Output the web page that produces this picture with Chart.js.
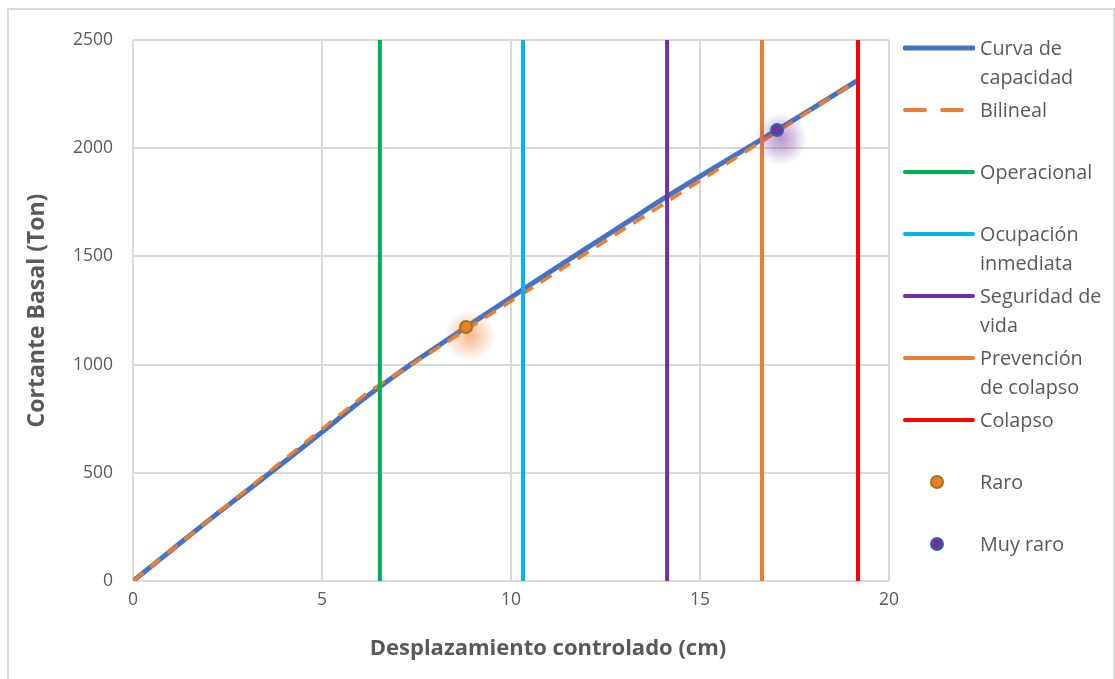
<!DOCTYPE html>
<html lang="es">
<head>
<meta charset="utf-8">
<title>Curva de capacidad</title>
<script src="https://cdn.jsdelivr.net/npm/chart.js@4.4.1/dist/chart.umd.min.js"></script>
<style>
    html, body { margin: 0; padding: 0; background: #fff; }
    body { width: 1115px; height: 679px; overflow: hidden; position: relative; font-family: 'Open Sans', sans-serif; }
    #frame { position: absolute; left: 7px; top: 8px; width: 1104px; height: 700px; border: 2px solid #d9d9d9; border-bottom: none; }
    #wrap { position: absolute; left: 0; top: 0; width: 1115px; height: 679px; }
    #xtitle { position: absolute; left: 348px; width: 400px; top: 630px; text-align: center; font-size: 22px; line-height: 32px; font-weight: bold; color: #595959; }
    #legend { position: absolute; left: 903px; top: 33px; width: 205px; }
    .item { position: relative; height: 62px; }
    .item svg { position: absolute; left: 0; top: 4px; }
    .item span { position: absolute; left: 77px; top: 0; font-size: 19.8px; line-height: 29px; color: #595959; white-space: pre-line; }
</style>
</head>
<body>
<div id="frame"></div>
<div id="wrap"><canvas id="chart" width="1115" height="679"></canvas></div>
<div id="xtitle">Desplazamiento controlado (cm)</div>
<div id="legend"></div>
<script>
// Capacity curve (displacement cm, base shear Ton)
const capX = [0, 1, 2, 3, 4, 5, 6, 7, 8, 9, 10, 11, 12, 13, 14, 15, 16, 17, 18, 19.18];
const capY = [0, 140, 280, 415, 550, 688, 828, 958, 1078, 1195, 1310, 1425, 1538, 1650, 1763, 1870, 1975, 2080, 2186, 2315];

// Bilinear idealization
const biX = [0, 6.2, 19.18];
const biY = [0, 870, 2315];

// Performance level limits (cm)
const levelNames = ['Operacional', 'Ocupación\ninmediata', 'Seguridad de\nvida', 'Prevención\nde colapso', 'Colapso'];
const levelX = [6.53, 10.32, 14.13, 16.64, 19.18];

// Performance points
const raroX = [8.81];
const raroY = [1174];
const muyRaroX = [17.04];
const muyRaroY = [2084];

const xTicks = [0, 5, 10, 15, 20];
const yTicks = [0, 500, 1000, 1500, 2000, 2500];

const GRAY = '#595959';
const FONT = "'Open Sans', sans-serif";

function toPoints(xs, ys) {
    return xs.map((x, i) => ({ x: x, y: ys[i] }));
}

const levelColors = ['#00b050', '#00b0f0', '#7030a0', '#ed7d31', '#ff0000'];

const datasets = [
    {
        label: 'Curva de\ncapacidad',
        data: toPoints(capX, capY),
        borderColor: '#4472c4',
        borderWidth: 5,
        pointRadius: 0,
        cubicInterpolationMode: 'monotone',
        order: 4
    },
    {
        label: 'Bilineal',
        data: toPoints(biX, biY),
        borderColor: '#ed7d31',
        borderWidth: 3.5,
        borderDash: [13, 9],
        pointRadius: 0,
        order: 3
    }
];

levelX.forEach((x, i) => {
    datasets.push({
        label: levelNames[i],
        data: [{ x: x, y: yTicks[0] }, { x: x, y: yTicks[yTicks.length - 1] }],
        borderColor: levelColors[i],
        borderWidth: 4,
        pointRadius: 0,
        order: 2
    });
});

datasets.push({
    label: 'Raro',
    data: toPoints(raroX, raroY),
    showLine: false,
    pointRadius: 6,
    pointBackgroundColor: '#ed7d31',
    pointBorderColor: '#a07a10',
    pointBorderWidth: 2,
    glow: 'rgba(237, 125, 49, 0.55)',
    order: 1
});
datasets.push({
    label: 'Muy raro',
    data: toPoints(muyRaroX, muyRaroY),
    showLine: false,
    pointRadius: 6,
    pointBackgroundColor: '#7030a0',
    pointBorderColor: '#2e6a9e',
    pointBorderWidth: 2,
    glow: 'rgba(112, 48, 160, 0.5)',
    order: 0
});

// soft halo behind the performance points
const markerGlow = {
    id: 'markerGlow',
    beforeDatasetDraw(chart, args) {
        const ds = chart.data.datasets[args.index];
        if (!ds.glow) return;
        const ctx = chart.ctx;
        args.meta.data.forEach(pt => {
            const cx = pt.x + 4, cy = pt.y + 9;
            const g = ctx.createRadialGradient(cx, cy, 0, cx, cy, 26);
            g.addColorStop(0, ds.glow);
            g.addColorStop(0.45, ds.glow.replace(/[\d.]+\)$/, '0.3)'));
            g.addColorStop(1, ds.glow.replace(/[\d.]+\)$/, '0)'));
            ctx.save();
            ctx.fillStyle = g;
            ctx.beginPath();
            ctx.arc(cx, cy, 26, 0, Math.PI * 2);
            ctx.fill();
            ctx.restore();
        });
    }
};

const chart = new Chart(document.getElementById('chart'), {
    type: 'scatter',
    data: { datasets: datasets },
    options: {
        responsive: false,
        animation: false,
        showLine: true,
        layout: { padding: { top: 40, right: 226, left: 0, bottom: 0 } },
        plugins: {
            legend: { display: false },
            tooltip: { enabled: false }
        },
        scales: {
            x: {
                type: 'linear',
                min: xTicks[0],
                max: xTicks[xTicks.length - 1],
                afterBuildTicks: scale => { scale.ticks = xTicks.map(v => ({ value: v })); },
                afterFit: scale => { scale.height = 98; },
                ticks: { color: GRAY, font: { family: FONT, size: 17.5 }, padding: 9, callback: v => String(v) },
                grid: { color: '#d9d9d9', lineWidth: 2, drawTicks: false },
                border: { display: false }
            },
            y: {
                type: 'linear',
                min: yTicks[0],
                max: yTicks[yTicks.length - 1],
                afterBuildTicks: scale => { scale.ticks = yTicks.map(v => ({ value: v })); },
                afterFit: scale => { scale.width = 133; },
                ticks: { color: GRAY, font: { family: FONT, size: 17.5 }, padding: 20, callback: v => String(v) },
                grid: { color: '#d9d9d9', lineWidth: 2, drawTicks: false },
                border: { display: false },
                title: {
                    display: true,
                    text: 'Cortante Basal (Ton)',
                    color: GRAY,
                    font: { family: FONT, size: 23, weight: 'bold' },
                    padding: { top: 24, bottom: 0 }
                }
            }
        }
    },
    plugins: [markerGlow]
});

// Legend built from the chart's datasets
function buildLegend() {
    const box = document.getElementById('legend');
    chart.data.datasets.forEach(ds => {
        const item = document.createElement('div');
        item.className = 'item';
        let sample;
        if (ds.showLine === false) {
            sample = '<svg width="72" height="22"><circle cx="34" cy="11" r="6" fill="' + ds.pointBackgroundColor +
                '" stroke="' + ds.pointBorderColor + '" stroke-width="2"/></svg>';
        } else {
            const dash = ds.borderDash ? ' stroke-dasharray="20 17"' : '';
            sample = '<svg width="72" height="22"><line x1="2" y1="11" x2="70" y2="11" stroke="' + ds.borderColor +
                '" stroke-width="' + (ds.borderWidth > 4 ? 5 : 4) + '" stroke-linecap="round"' + dash + '/></svg>';
        }
        item.innerHTML = sample + '<span></span>';
        item.querySelector('span').textContent = ds.label;
        box.appendChild(item);
    });
}
buildLegend();
</script>
</body>
</html>
